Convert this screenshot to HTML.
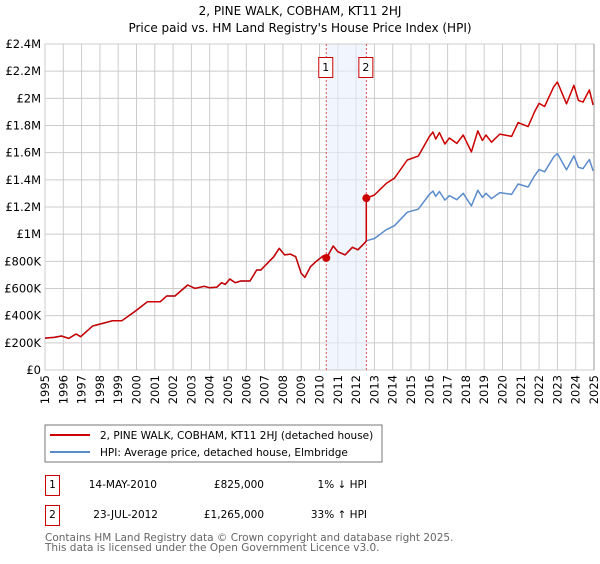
<!DOCTYPE html>
<html><head><meta charset="utf-8"><style>
body{margin:0;background:#fff;font-family:"DejaVu Sans","Liberation Sans",sans-serif;}
svg text{font-family:"DejaVu Sans","Liberation Sans",sans-serif;}
</style></head><body>
<svg id="c" width="600" height="560" viewBox="0 0 600 560">
<text x="300" y="15" text-anchor="middle" font-size="12" fill="#000">2, PINE WALK, COBHAM, KT11 2HJ</text>
<text x="300" y="32" text-anchor="middle" font-size="12" fill="#000">Price paid vs. HM Land Registry's House Price Index (HPI)</text>
<g id="grid"></g><g id="marks"></g><g id="axes"></g>
<rect x="45" y="425" width="337" height="37" fill="#fff" stroke="#777"/>
<line x1="50" y1="435" x2="90" y2="435" stroke="#cc0000" stroke-width="2"/>
<text x="100" y="439" font-size="10.5">2, PINE WALK, COBHAM, KT11 2HJ (detached house)</text>
<line x1="50" y1="452" x2="90" y2="452" stroke="#5b8ccc" stroke-width="2"/>
<text x="100" y="456" font-size="10.5">HPI: Average price, detached house, Elmbridge</text>
<g font-size="10.5">
<rect x="45.5" y="475.5" width="14" height="20" fill="none" stroke="#cc0000"/>
<text x="52.5" y="488" text-anchor="middle">1</text>
<text x="157" y="488" text-anchor="end">14-MAY-2010</text>
<text x="264" y="488" text-anchor="end">£825,000</text>
<text x="367" y="488" text-anchor="end">1% ↓ HPI</text>
<rect x="45.5" y="505.5" width="14" height="20" fill="none" stroke="#cc0000"/>
<text x="52.5" y="518" text-anchor="middle">2</text>
<text x="158" y="518" text-anchor="end">23-JUL-2012</text>
<text x="264" y="518" text-anchor="end">£1,265,000</text>
<text x="367" y="518" text-anchor="end">33% ↑ HPI</text>
</g>
<text x="45" y="541" font-size="10.5" fill="#666">Contains HM Land Registry data © Crown copyright and database right 2025.</text>
<text x="45" y="551" font-size="10.5" fill="#666">This data is licensed under the Open Government Licence v3.0.</text>
</svg>
<script>
const yTicks=[0,200,400,600,800,1000,1200,1400,1600,1800,2000,2200,2400];
const yLabels=["£0","£200K","£400K","£600K","£800K","£1M","£1.2M","£1.4M","£1.6M","£1.8M","£2M","£2.2M","£2.4M"];
const xYears=[1995,1996,1997,1998,1999,2000,2001,2002,2003,2004,2005,2006,2007,2008,2009,2010,2011,2012,2013,2014,2015,2016,2017,2018,2019,2020,2021,2022,2023,2024,2025];
const hpiDates=[1995.0,1995.5,1995.9,1996.3,1996.7,1996.95,1997.6,1998.2,1998.7,1999.2,1999.9,2000.6,2001.3,2001.65,2002.1,2002.8,2003.2,2003.7,2004.0,2004.4,2004.65,2004.85,2005.1,2005.4,2005.7,2006.2,2006.57,2006.8,2007.5,2007.8,2008.1,2008.4,2008.7,2009.0,2009.2,2009.5,2009.8,2010.2,2010.4,2010.75,2011.0,2011.4,2011.8,2012.1,2012.5,
2012.56,2013.0,2013.65,2014.1,2014.8,2015.4,2016.0,2016.2,2016.35,2016.55,2016.85,2017.1,2017.5,2017.85,2018.3,2018.65,2018.9,2019.1,2019.4,2019.85,2020.5,2020.85,2021.4,2021.75,2022.0,2022.3,2022.8,2023.0,2023.5,2023.6,2023.9,2024.15,2024.4,2024.75,2024.95];
const hpiValues=[235,240,250,233,265,245,324,345,363,363,430,503,503,545,545,626,601,616,605,610,643,630,670,643,655,655,736,736,834,895,847,853,834,712,682,760,797,840,833,913,871,847,903,885,940,
951,968,1033,1062,1162,1184,1292,1317,1278,1314,1251,1284,1254,1301,1208,1323,1271,1301,1261,1306,1293,1369,1347,1429,1476,1459,1568,1594,1474,1499,1576,1492,1483,1550,1466];
const priceDates=[1995.0,1995.5,1995.9,1996.3,1996.7,1996.95,1997.6,1998.2,1998.7,1999.2,1999.9,2000.6,2001.3,2001.65,2002.1,2002.8,2003.2,2003.7,2004.0,2004.4,2004.65,2004.85,2005.1,2005.4,2005.7,2006.2,2006.57,2006.8,2007.5,2007.8,2008.1,2008.4,2008.7,2009.0,2009.2,2009.5,2009.8,2010.2,2010.4,2010.75,2011.0,2011.4,2011.8,2012.1,2012.5,
2012.56,2012.56,2013.0,2013.65,2014.1,2014.8,2015.4,2016.0,2016.2,2016.35,2016.55,2016.85,2017.1,2017.5,2017.85,2018.3,2018.65,2018.9,2019.1,2019.4,2019.85,2020.5,2020.85,2021.4,2021.75,2022.0,2022.3,2022.8,2023.0,2023.5,2023.6,2023.9,2024.15,2024.4,2024.75,2024.95];
const priceValues=[235,240,250,233,265,245,324,345,363,363,430,503,503,545,545,626,601,616,605,610,643,630,670,643,655,655,736,736,834,895,847,853,834,712,682,760,797,840,825,913,871,847,903,885,940,
951,1265,1288,1374,1413,1546,1575,1718,1752,1700,1747,1664,1708,1668,1730,1606,1760,1690,1730,1677,1737,1720,1821,1792,1900,1963,1940,2085,2120,1960,1994,2096,1985,1972,2062,1950];
const saleDates=[2010.37,2012.56];
const saleValues=[825,1265];
const saleLabels=["1","2"];

const X0=45,X1=594,Y0=370,Y1=44;
const xs=d=>X0+(d-1995)/30*(X1-X0);
const ys=v=>Y0-v/2400*(Y0-Y1);
const NS="http://www.w3.org/2000/svg";
function mk(tag,attrs,parent){const e=document.createElementNS(NS,tag);for(const k in attrs)e.setAttribute(k,attrs[k]);parent.appendChild(e);return e;}
const grid=document.getElementById('grid'),marks=document.getElementById('marks'),axes=document.getElementById('axes');
yTicks.forEach((t,i)=>{
  const l=mk('line',{x1:X0,x2:X1,y1:ys(t),y2:ys(t),stroke:'#ccc','stroke-width':1},grid);
  
  
  const tx=mk('text',{x:X0-4,y:ys(t)+4,'text-anchor':'end','font-size':'11.5'},axes);
  tx.textContent=yLabels[i];
  
  
});
xYears.forEach(y=>{
  const l=mk('line',{x1:xs(y),x2:xs(y),y1:Y1,y2:Y0,stroke:'#ccc','stroke-width':1},grid);
  
  
  const tx=mk('text',{x:0,y:0,'text-anchor':'end','font-size':'11.5',transform:`translate(${xs(y)+4},${Y0+5}) rotate(-90)`},axes);
  tx.textContent=y;
  
  
});
const band=mk('rect',{x:xs(saleDates[0]),y:Y1,width:xs(saleDates[1])-xs(saleDates[0]),height:Y0-Y1,fill:'#e8eefc','fill-opacity':0.6},grid);


const frame=mk('rect',{x:X0,y:Y1,width:X1-X0,height:Y0-Y1,fill:'none',stroke:'#ccc'},grid);


saleDates.forEach((d,i)=>{
  const l=mk('line',{x1:xs(d),x2:xs(d),y1:Y1,y2:Y0,stroke:'#e05050','stroke-width':1,'stroke-dasharray':'2,2'},marks);
  
  
  const r=mk('rect',{x:xs(d)-7.5,y:57.5,width:14,height:20,fill:'#fff',stroke:'#cc0000'},marks);
  
  
  const t=mk('text',{x:xs(d)-0.5,y:71,'text-anchor':'middle','font-size':'11'},marks);
  t.textContent=saleLabels[i];
  
  
});
const pts=(ds,vs)=>ds.map((d,i)=>xs(d).toFixed(1)+','+ys(vs[i]).toFixed(1)).join(' ');
const hl=mk('polyline',{points:pts(hpiDates,hpiValues),fill:'none',stroke:'#5b8ccc','stroke-width':1.5,'stroke-linejoin':'round'},marks);


const pl=mk('polyline',{points:pts(priceDates,priceValues),fill:'none',stroke:'#cc0000','stroke-width':1.5,'stroke-linejoin':'round'},marks);


saleDates.forEach((d,i)=>{
  const c=mk('circle',{cx:xs(d),cy:ys(saleValues[i]),r:4,fill:'#cc0000'},marks);
  
  
});
const rl=mk('line',{x1:X1,x2:X1,y1:Y1,y2:Y0,stroke:'#999'},axes);


</script>
</body></html>
